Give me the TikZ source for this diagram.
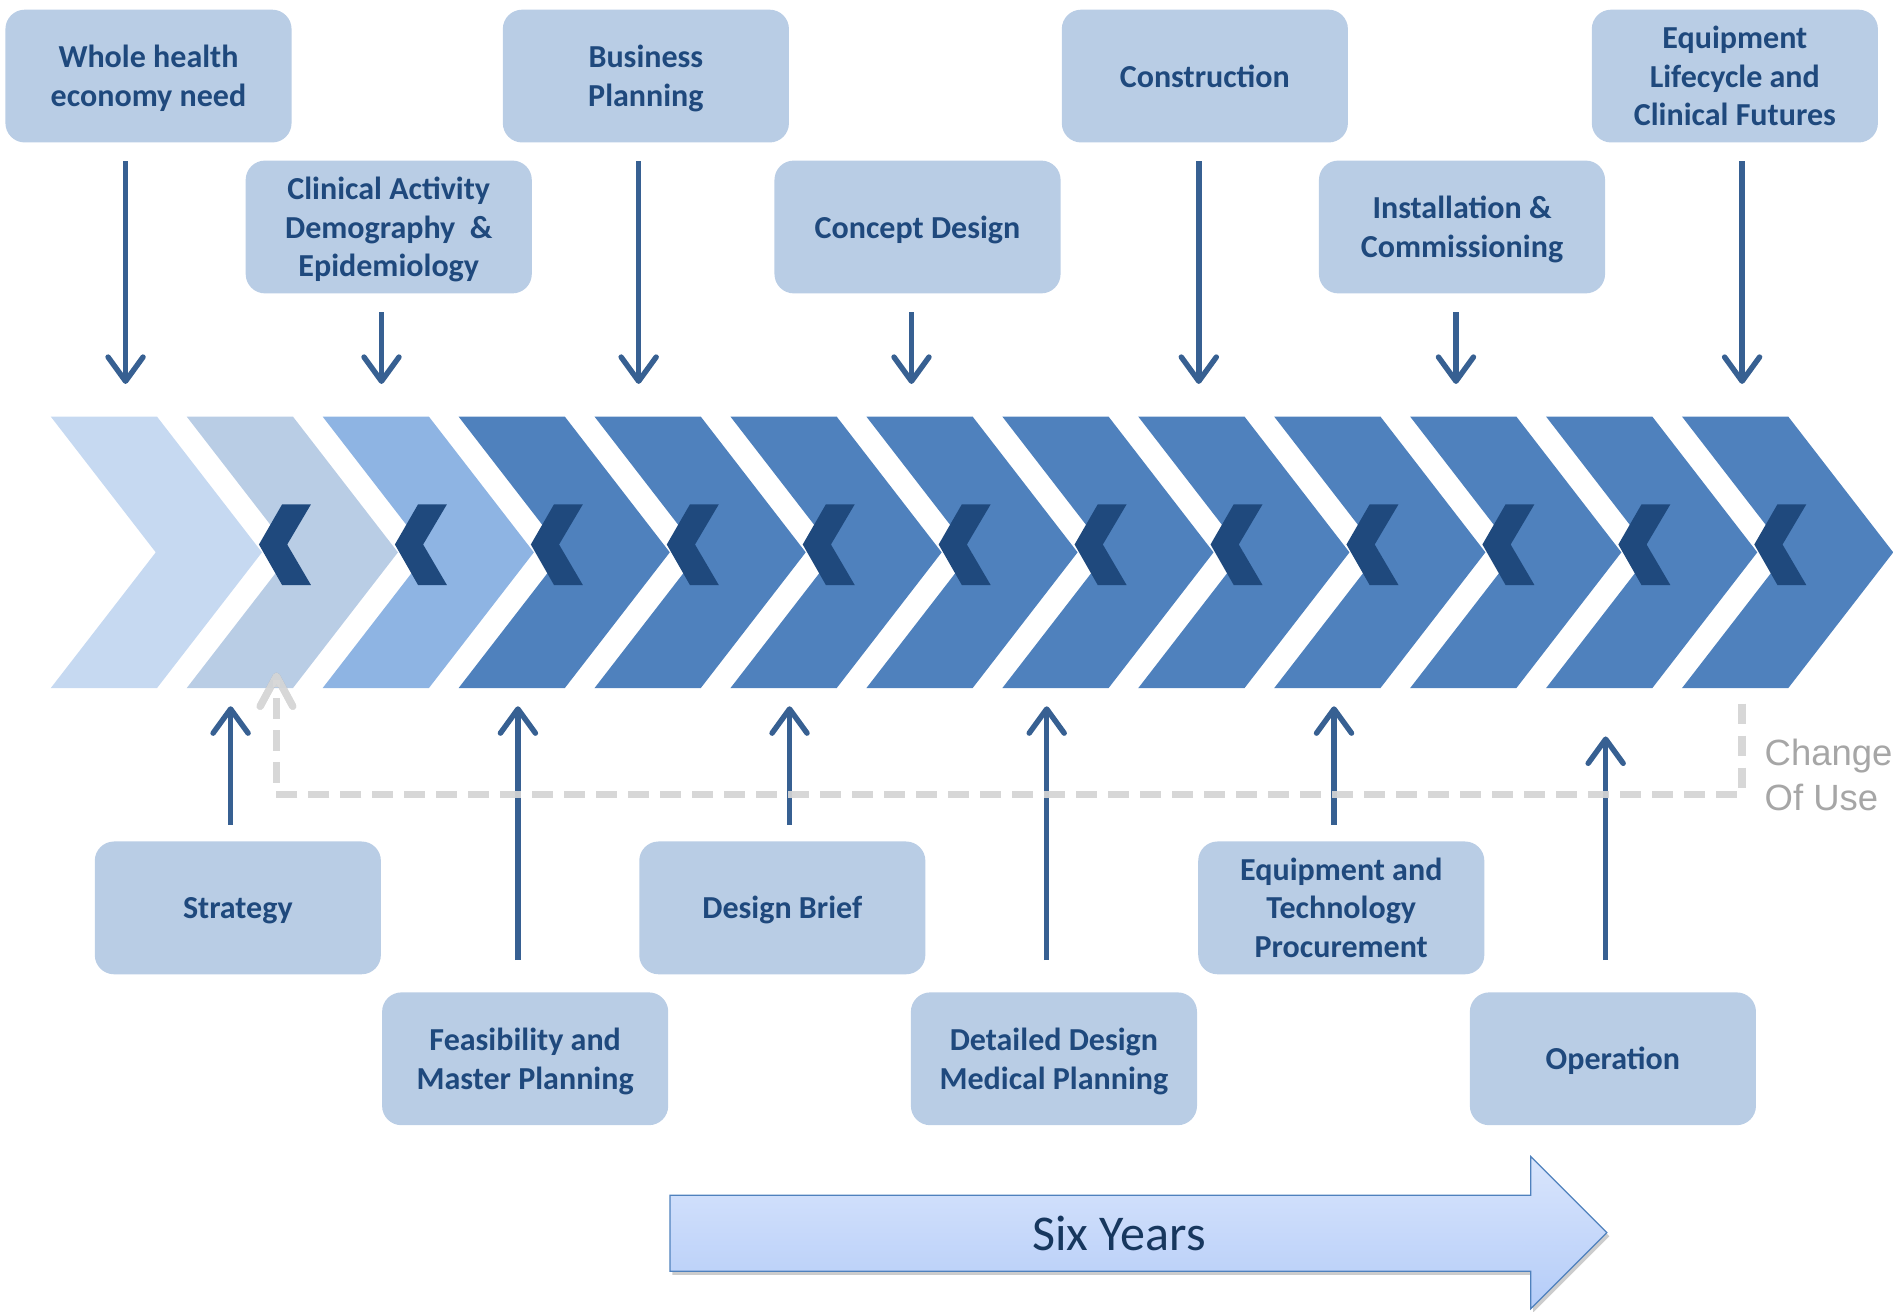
\documentclass[tikz,border=0pt]{standalone}
\usepackage{fontspec}
\setmainfont{Carlito}
\newfontfamily\cuefont{Liberation Sans}
\usetikzlibrary{arrows.meta}
\definecolor{box_fill}{RGB}{185,205,229}
\definecolor{box_text}{RGB}{31,73,125}
\definecolor{edge_blue}{RGB}{55,96,146}
\definecolor{chev_a}{RGB}{198,217,241}
\definecolor{chev_b}{RGB}{185,205,229}
\definecolor{chev_c}{RGB}{142,180,227}
\definecolor{chev_d}{RGB}{79,129,189}
\definecolor{mark_dark}{RGB}{31,73,125}
\definecolor{dash_gray}{RGB}{217,217,217}
\definecolor{cue_gray}{RGB}{166,166,166}
\definecolor{span_top}{RGB}{217,229,252}
\definecolor{span_bot}{RGB}{180,204,248}
\definecolor{span_edge}{RGB}{79,129,189}
\definecolor{span_text}{RGB}{23,55,94}

\begin{document}
\begin{tikzpicture}[x=0.1mm,y=-0.1mm]
    \tikzstyle{stage}=[fill=box_fill, rounded corners=1.6mm, minimum width=23.7mm, minimum height=11mm, text width=23.7mm, inner sep=0pt, align=flush center, text=box_text, font=\fontsize{7.55}{9.1}\selectfont\bfseries, execute at begin node={\rule{0pt}{7.1pt}}, execute at end node={\rule[-1.9pt]{0pt}{1.9pt}}]
    \tikzstyle{flow}=[draw=edge_blue, line width=0.45mm, -{Straight Barb[length=2mm,width=2.9mm,round]}]
    \tikzstyle{reuse}=[draw=dash_gray, line width=0.6mm, dash pattern=on 1.7mm off 0.95mm, -{Straight Barb[length=2.5mm,width=2.7mm,round]}]
    \tikzstyle{cue}=[text=cue_gray, align=left, inner sep=0pt, font=\cuefont\fontsize{8.6}{10.5}\selectfont]

    \useasboundingbox (0,0) rectangle (1568,1086);
    \clip (0,0) rectangle (1568,1086);

    % chevron band
    \foreach \k/\c in {0/chev_a,1/chev_b,2/chev_c,3/chev_d,4/chev_d,5/chev_d,6/chev_d,7/chev_d,8/chev_d,9/chev_d,10/chev_d,11/chev_d,12/chev_d}
      \fill[\c] ({42+\k*112.6},345) -- ++(88,0) -- ++(87,112.5) -- ++(-87,112.5) -- ++(-88,0) -- ++(87,-112.5) -- cycle;
    \foreach \k in {1,...,12}
      \fill[mark_dark] ({42+\k*112.6+59.9},451) -- ++(19.2,-33.3) -- ++(23.9,0) -- ++(-19.7,33.3) -- ++(19.7,33.6) -- ++(-23.9,0) -- cycle;

    % stages above the band
    \node[stage] (whole)  at (123,63)   {Whole health\\economy need};
    \node[stage] (busi)   at (535,63)   {Business\\Planning};
    \node[stage] (cons)   at (998,63)   {Construction};
    \node[stage] (life)   at (1437,63)  {Equipment\\Lifecycle and\\Clinical Futures};
    \node[stage] (clin)   at (322,188)  {Clinical Activity\\Demography\ \ \&\\Epidemiology};
    \node[stage] (conc)   at (760,188)  {Concept Design};
    \node[stage] (inst)   at (1211,188) {Installation \&\\Commissioning};

    % stages below the band
    \node[stage] (strat)  at (197,752)  {Strategy};
    \node[stage] (brief)  at (648,752)  {Design Brief};
    \node[stage] (proc)   at (1111,752) {Equipment and\\Technology\\Procurement};
    \node[stage] (feas)   at (435,877)  {Feasibility and\\Master Planning};
    \node[stage] (detail) at (873,877)  {Detailed Design\\Medical Planning};
    \node[stage] (oper)   at (1336,877) {Operation};

    \coordinate (d1) at (104,318);
    \coordinate (d2) at (316,318);
    \coordinate (d3) at (529,318);
    \coordinate (d4) at (755,318);
    \coordinate (d5) at (993,318);
    \coordinate (d6) at (1206,318);
    \coordinate (d7) at (1443,318);
    \coordinate (u1) at (191,585);
    \coordinate (u2) at (429,585);
    \coordinate (u3) at (654,585);
    \coordinate (u4) at (867,585);
    \coordinate (u5) at (1105,585);
    \coordinate (u6) at (1330,610);

    \path
     (whole.south -| d1) edge[flow, shorten <=1.5mm] (d1)
     (clin.south -| d2)  edge[flow, shorten <=1.5mm] (d2)
     (busi.south -| d3)  edge[flow, shorten <=1.5mm] (d3)
     (conc.south -| d4)  edge[flow, shorten <=1.5mm] (d4)
     (cons.south -| d5)  edge[flow, shorten <=1.5mm] (d5)
     (inst.south -| d6)  edge[flow, shorten <=1.5mm] (d6)
     (life.south -| d7)  edge[flow, shorten <=1.5mm] (d7)
     (strat.north -| u1) edge[flow, shorten <=1.3mm] (u1)
     (feas.north -| u2)  edge[flow, shorten <=2.6mm] (u2)
     (brief.north -| u3) edge[flow, shorten <=1.3mm] (u3)
     (detail.north -| u4) edge[flow, shorten <=2.6mm] (u4)
     (proc.north -| u5)  edge[flow, shorten <=1.3mm] (u5)
     (oper.north -| u6)  edge[flow, shorten <=2.6mm] (u6)
     ;

    % change of use loop back
    \coordinate (cu1) at (1443,583);
    \coordinate (cuturn) at (229,658);
    \coordinate (cu2) at (229,557);
    \draw[reuse, draw=black, opacity=0.18, shift={(1.5,2.5)}] (cu1) |- (cuturn) -- (cu2);
    \draw[reuse, opacity=0.9] (cu1) |- (cuturn) -- (cu2);
    \node[cue, anchor=west] (cue) at (1461,642) {Change\\Of Use};

    % time span arrow
    \fill[black, opacity=0.2, shift={(2,3)}] (555,990) -- (1268,990) -- (1268,958) -- (1331,1021) -- (1268,1084) -- (1268,1053) -- (555,1053) -- cycle;
    \draw[span_edge, line width=0.1mm, top color=span_top, bottom color=span_bot] (555,990) -- (1268,990) -- (1268,958) -- (1331,1021) -- (1268,1084) -- (1268,1053) -- (555,1053) -- cycle;
    \node[text=span_text, font=\fontsize{11.8}{14}\selectfont] (span) at (927,1022) {Six Years};
\end{tikzpicture}
\end{document}
